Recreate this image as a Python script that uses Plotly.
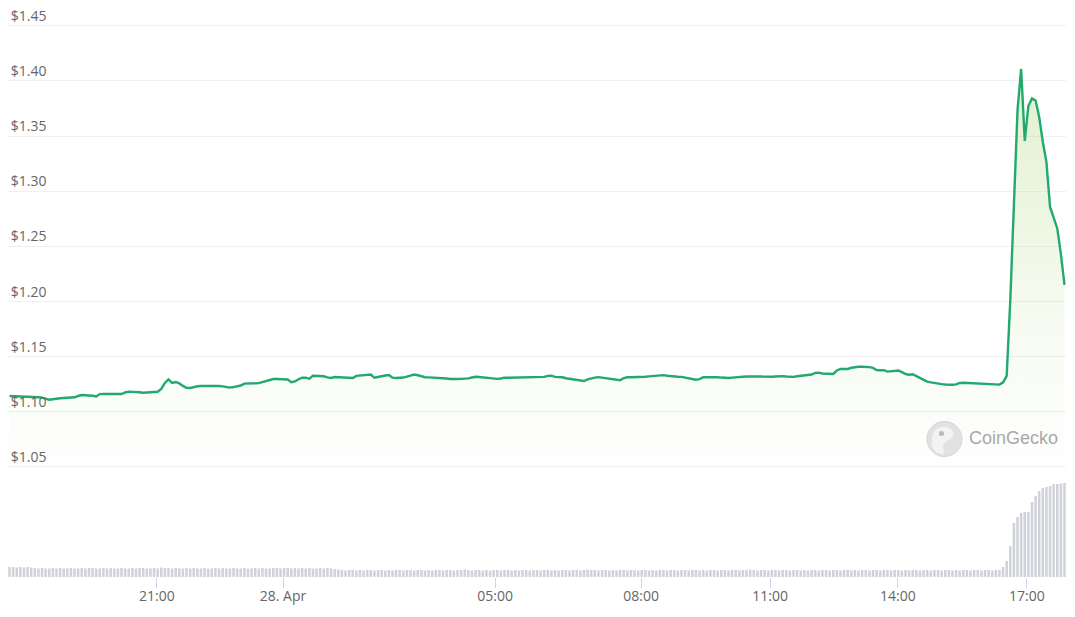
import plotly.graph_objects as go

# ---------------- data ----------------
tick_labels = ["21:00", "28. Apr", "05:00", "08:00", "11:00", "14:00", "17:00"]
# ordinal (sample-index) position at which each time label falls
tick_sample_index = [40.8, 75.7, 134.4, 174.8, 210.5, 245.9, 281.6]

price_ticks = [1.05, 1.10, 1.15, 1.20, 1.25, 1.30, 1.35, 1.40, 1.45]

price_usd = [
    1.1143, 1.1142, 1.1141, 1.1141, 1.1139, 1.1138, 1.1136, 1.1134, 1.1131, 1.1128,
    1.1118, 1.1109, 1.1113, 1.1120, 1.1122, 1.1125, 1.1128, 1.1130, 1.1131, 1.1143,
    1.1152, 1.1150, 1.1150, 1.1145, 1.1138, 1.1160, 1.1161, 1.1161, 1.1161, 1.1159,
    1.1156, 1.1161, 1.1175, 1.1182, 1.1180, 1.1180, 1.1177, 1.1173, 1.1175, 1.1177,
    1.1179, 1.1181, 1.1207, 1.1261, 1.1293, 1.1261, 1.1270, 1.1257, 1.1234, 1.1218,
    1.1216, 1.1225, 1.1231, 1.1233, 1.1234, 1.1236, 1.1237, 1.1235, 1.1234, 1.1230,
    1.1224, 1.1219, 1.1224, 1.1229, 1.1238, 1.1255, 1.1258, 1.1258, 1.1258, 1.1260,
    1.1270, 1.1279, 1.1288, 1.1297, 1.1297, 1.1297, 1.1297, 1.1293, 1.1268, 1.1275,
    1.1295, 1.1308, 1.1309, 1.1299, 1.1327, 1.1326, 1.1325, 1.1322, 1.1312, 1.1306,
    1.1315, 1.1312, 1.1310, 1.1308, 1.1306, 1.1306, 1.1325, 1.1327, 1.1332, 1.1336,
    1.1337, 1.1308, 1.1316, 1.1326, 1.1329, 1.1333, 1.1309, 1.1306, 1.1307, 1.1310,
    1.1319, 1.1328, 1.1338, 1.1331, 1.1319, 1.1313, 1.1312, 1.1311, 1.1310, 1.1309,
    1.1306, 1.1302, 1.1297, 1.1295, 1.1297, 1.1298, 1.1299, 1.1303, 1.1311, 1.1317,
    1.1315, 1.1312, 1.1309, 1.1306, 1.1303, 1.1298, 1.1302, 1.1309, 1.1309, 1.1310,
    1.1309, 1.1309, 1.1310, 1.1312, 1.1313, 1.1315, 1.1316, 1.1316, 1.1316, 1.1325,
    1.1327, 1.1316, 1.1317, 1.1313, 1.1304, 1.1299, 1.1297, 1.1293, 1.1284, 1.1279,
    1.1294, 1.1305, 1.1309, 1.1314, 1.1310, 1.1301, 1.1297, 1.1296, 1.1295, 1.1286,
    1.1306, 1.1313, 1.1313, 1.1313, 1.1314, 1.1316, 1.1318, 1.1321, 1.1325, 1.1327,
    1.1331, 1.1332, 1.1326, 1.1321, 1.1318, 1.1317, 1.1316, 1.1311, 1.1303, 1.1297,
    1.1291, 1.1296, 1.1313, 1.1314, 1.1315, 1.1315, 1.1313, 1.1310, 1.1306, 1.1306,
    1.1310, 1.1314, 1.1316, 1.1318, 1.1319, 1.1321, 1.1322, 1.1320, 1.1319, 1.1317,
    1.1316, 1.1317, 1.1320, 1.1324, 1.1323, 1.1320, 1.1317, 1.1316, 1.1322, 1.1327,
    1.1330, 1.1332, 1.1338, 1.1352, 1.1355, 1.1347, 1.1344, 1.1342, 1.1343, 1.1374,
    1.1388, 1.1388, 1.1388, 1.1399, 1.1407, 1.1408, 1.1408, 1.1409, 1.1405, 1.1398,
    1.1379, 1.1377, 1.1377, 1.1364, 1.1369, 1.1374, 1.1374, 1.1359, 1.1342, 1.1336,
    1.1340, 1.1323, 1.1306, 1.1288, 1.1273, 1.1267, 1.1260, 1.1254, 1.1250, 1.1247,
    1.1244, 1.1245, 1.1248, 1.1261, 1.1263, 1.1261, 1.1259, 1.1257, 1.1254, 1.1252,
    1.1250, 1.1248, 1.1245, 1.1243, 1.1246, 1.1267, 1.1325, 1.2014, 1.2965, 1.3736,
    1.4108, 1.3455, 1.3772, 1.3840, 1.3822, 1.3672, 1.3446, 1.3264, 1.2857, 1.2757,
    1.2662, 1.2430, 1.2150,
]

volume_musd = [
    2.0, 2.0, 1.9, 2.0, 1.9, 2.0, 1.9,
    1.8, 1.7, 1.8, 1.7, 1.7, 1.8, 1.7, 1.8, 1.7, 1.7,
    1.8, 1.7, 1.7, 1.8, 1.7, 1.8, 1.8, 1.7, 1.7, 1.8,
    1.7, 1.8, 1.7, 1.7, 1.8, 1.7, 1.7, 1.8, 1.7, 1.8,
    1.8, 1.7, 1.7, 1.8, 1.7, 1.9, 1.8, 1.8, 1.7, 1.8,
    1.7, 1.7, 1.8, 1.7, 1.8, 1.7, 1.7, 1.8, 1.7, 1.7,
    1.8, 1.7, 1.8, 1.7, 1.7, 1.8, 1.7, 1.7, 1.8, 1.7,
    1.7, 1.8, 1.7, 1.8, 1.7, 1.7, 1.8, 1.8, 1.7, 1.8,
    1.8, 1.7, 1.8, 1.7, 1.8, 1.7, 1.8, 1.7, 1.7, 1.8,
    1.7, 1.8, 1.7, 1.6, 1.5,
    1.4, 1.3, 1.4, 1.4, 1.3, 1.4, 1.3, 1.4, 1.4, 1.3,
    1.4, 1.4, 1.3, 1.4, 1.3, 1.4, 1.4, 1.3, 1.4, 1.4,
    1.3, 1.4, 1.4, 1.3, 1.4, 1.3, 1.4, 1.4, 1.3, 1.4,
    1.4, 1.3, 1.4, 1.4, 1.5, 1.4, 1.3, 1.4, 1.4, 1.3,
    1.4, 1.3, 1.4, 1.4, 1.3, 1.4, 1.4, 1.3, 1.4, 1.3,
    1.4, 1.4, 1.3, 1.4, 1.4, 1.3, 1.4, 1.4, 1.3, 1.4,
    1.3, 1.4, 1.4, 1.3, 1.4, 1.4, 1.3, 1.4, 1.5, 1.4,
    1.4, 1.3, 1.4, 1.4, 1.3, 1.4, 1.3, 1.4, 1.4, 1.3,
    1.4, 1.4, 1.3, 1.4, 1.4, 1.3, 1.4, 1.3, 1.4, 1.4,
    1.3, 1.4, 1.4, 1.3, 1.4, 1.4, 1.3, 1.4, 1.4, 1.3,
    1.4, 1.3, 1.4, 1.4, 1.3, 1.4, 1.4, 1.3, 1.4, 1.4,
    1.3, 1.4, 1.4, 1.5, 1.4, 1.3, 1.4, 1.4, 1.3, 1.4,
    1.4, 1.3, 1.4, 1.4, 1.3, 1.4, 1.4, 1.3, 1.4, 1.3,
    1.4, 1.4, 1.3, 1.4, 1.4, 1.3, 1.4, 1.4, 1.3, 1.4,
    1.4, 1.3, 1.4, 1.3, 1.4, 1.4, 1.3, 1.4, 1.4, 1.3,
    1.4, 1.4, 1.3, 1.4, 1.4, 1.3, 1.4, 1.3, 1.4, 1.4,
    1.3, 1.4, 1.4, 1.3, 1.4, 1.4, 1.3, 1.4, 1.4, 1.3,
    1.4, 1.3, 1.4, 1.4, 1.3, 1.4, 1.4, 1.3, 1.4, 1.4,
    1.3, 1.4, 1.4,
    2.0, 3.2, 6.2, 10.8, 12.0, 12.8, 13.0, 13.0, 15.0, 16.2,
    17.2, 17.8, 18.0, 18.2, 18.6, 18.6, 18.7, 18.8,
]

n = min(len(price_usd), len(volume_musd))
sample_index = list(range(n))
price_tick_text = ["$" + f"{v:.2f}" for v in price_ticks]

# ---------------- styling ----------------
W, H = 1075, 617
FONT = "Open Sans, DejaVu Sans, sans-serif"
LABEL_COLOR = "#666666"
LINE_COLOR = "#22a96e"

fig = go.Figure()

fig.add_trace(go.Bar(
    x=sample_index, y=volume_musd[:n],
    marker=dict(color="#cfd2d8", line=dict(width=0)),
    xaxis="x", yaxis="y2", hoverinfo="skip",
))

fig.add_trace(go.Scatter(
    x=sample_index, y=price_usd[:n],
    mode="lines",
    line=dict(color=LINE_COLOR, width=2.4, shape="linear"),
    fill="tozeroy",
    fillgradient=dict(
        type="vertical",
        colorscale=[[0.0, "rgba(141,198,71,0.0)"], [0.35, "rgba(141,198,71,0.07)"],
                    [1.0, "rgba(141,198,71,0.27)"]],
        start=1.04, stop=1.42,
    ),
    xaxis="x", yaxis="y",
))

px_left, px_right = 7.7, 1066.3
fig.update_layout(
    width=W, height=H,
    margin=dict(l=0, r=0, t=0, b=0),
    paper_bgcolor="white", plot_bgcolor="white",
    showlegend=False,
    bargap=0.3,
    font=dict(family=FONT, size=14, color=LABEL_COLOR),
    xaxis=dict(
        domain=[px_left / W, px_right / W],
        range=[-0.5, n - 0.5],
        anchor="y2",
        tickmode="array",
        tickvals=tick_sample_index,
        ticktext=tick_labels,
        ticks="outside", ticklen=10, tickwidth=1, tickcolor="#ccd6eb",
        ticklabelstandoff=-4,
        showgrid=False, zeroline=False, showline=False,
        tickfont=dict(family=FONT, size=14, color=LABEL_COLOR),
        automargin=False,
    ),
    yaxis=dict(
        domain=[(H - 470) / H, 1.0],
        range=[1.0472, 1.4733],
        anchor="x",
        tickmode="array",
        tickvals=price_ticks,
        ticktext=price_tick_text,
        ticklabelposition="inside top",
        ticks="",
        showgrid=True, gridcolor="#f0f0f0", gridwidth=1,
        zeroline=False, showline=False,
        tickfont=dict(family=FONT, size=14, color=LABEL_COLOR),
        automargin=False,
    ),
    yaxis2=dict(
        domain=[(H - 577) / H, (H - 483) / H],
        range=[0, 18.8],
        anchor="x",
        showgrid=False, zeroline=False, showline=False,
        showticklabels=False, ticks="",
        automargin=False,
    ),
)

# CoinGecko watermark
def pxx(v):
    return v / W

def pxy(v):
    return (H - v) / H

shapes = [
    dict(type="circle", xref="paper", yref="paper",
         x0=pxx(927), x1=pxx(962), y0=pxy(456.5), y1=pxy(421.5),
         fillcolor="#e2e2e2", line=dict(color="#d4d4d4", width=1), layer="above"),
    dict(type="path", xref="paper", yref="paper",
         path=(f"M {pxx(933)},{pxy(449)} "
               f"C {pxx(930)},{pxy(436)} {pxx(934)},{pxy(427)} {pxx(944)},{pxy(427)} "
               f"C {pxx(952)},{pxy(427)} {pxx(955)},{pxy(433)} {pxx(952)},{pxy(438)} "
               f"C {pxx(948)},{pxy(441)} {pxx(944)},{pxy(441)} {pxx(943)},{pxy(446)} "
               f"L {pxx(944)},{pxy(454)} C {pxx(939)},{pxy(454)} {pxx(935)},{pxy(452)} {pxx(933)},{pxy(449)} Z"),
         fillcolor="#f3f3f3", line=dict(width=0), layer="above"),
    dict(type="circle", xref="paper", yref="paper",
         x0=pxx(939), x1=pxx(944), y0=pxy(436), y1=pxy(431),
         fillcolor="#b9b9b9", line=dict(width=0), layer="above"),
]
fig.update_layout(shapes=shapes)

fig.add_annotation(
    xref="paper", yref="paper", x=pxx(967), y=pxy(438.5),
    xanchor="left", yanchor="middle", showarrow=False,
    text="CoinGecko",
    font=dict(family="Liberation Sans, Arial, sans-serif", size=18, color="#a8a8a8"),
)

fig.write_html(
    "out.html",
    config={"displayModeBar": False},
    post_script="document.body.style.margin='0';document.body.style.padding='0';",
)
